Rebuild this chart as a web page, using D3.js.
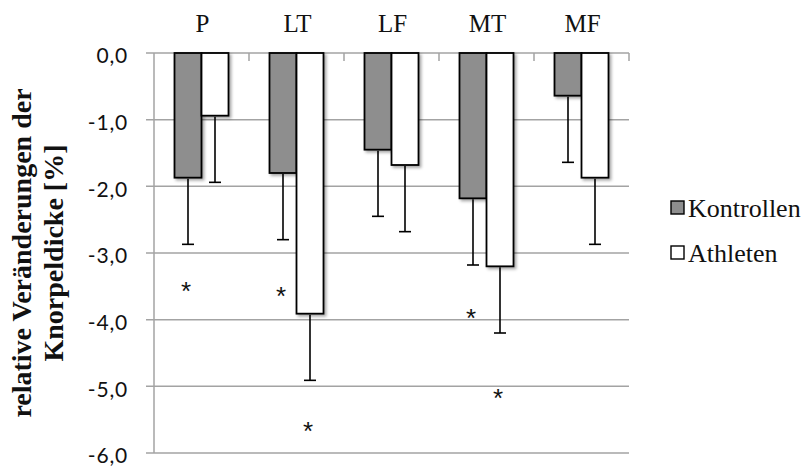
<!DOCTYPE html>
<html>
<head>
<meta charset="utf-8">
<script src="https://cdn.jsdelivr.net/npm/d3@7"></script>
<style>
  body { margin: 0; background: #fff; }
  svg { display: block; }
</style>
</head>
<body>
<div id="chart"></div>
<script>
const categories = ["P", "LT", "LF", "MT", "MF"]
const seriesNames = ["Kontrollen", "Athleten"]
const kontrollen = [-1.87, -1.80, -1.45, -2.18, -0.64]
const athleten = [-0.94, -3.91, -1.68, -3.20, -1.87]
const kontrollenSD = [1.0, 1.0, 1.0, 1.0, 1.0]
const athletenSD = [1.0, 1.0, 1.0, 1.0, 1.0]
const yTicks = [0, -1, -2, -3, -4, -5, -6]
// significance markers: category, series, y value
const stars = [
  ["P", "Kontrollen", -3.52],
  ["LT", "Kontrollen", -3.6],
  ["LT", "Athleten", -5.62],
  ["MT", "Kontrollen", -3.93],
  ["MT", "Athleten", -5.13]
]

const width = 808, height = 468
const margin = { top: 53, right: 179, bottom: 14, left: 154 }

const svg = d3.select("#chart").append("svg")
  .attr("width", width)
  .attr("height", height)

const defs = svg.append("defs")
defs.append("filter")
  .attr("id", "shadow")
  .attr("x", "-20%").attr("y", "-20%")
  .attr("width", "150%").attr("height", "150%")
  .append("feDropShadow")
  .attr("dx", 2).attr("dy", 2)
  .attr("stdDeviation", 1.6)
  .attr("flood-color", "#000")
  .attr("flood-opacity", 0.35)

const x = d3.scaleBand()
  .domain(categories)
  .range([margin.left, width - margin.right])

const gap = 41
const xs = d3.scaleBand()
  .domain(seriesNames)
  .range([gap / 2, x.bandwidth() - gap / 2])

const y = d3.scaleLinear()
  .domain([0, -6])
  .range([margin.top, height - margin.bottom - 1])

const fill = { Kontrollen: "#8e8e8e", Athleten: "#ffffff" }

// grid lines
svg.append("g")
  .selectAll("line")
  .data(yTicks)
  .join("line")
  .attr("x1", margin.left - 8)
  .attr("x2", width - margin.right)
  .attr("y1", d => y(d))
  .attr("y2", d => y(d))
  .attr("stroke", "#a3a3a3")
  .attr("stroke-width", 1.5)

// left axis line
svg.append("line")
  .attr("x1", margin.left).attr("x2", margin.left)
  .attr("y1", y(0)).attr("y2", y(-6))
  .attr("stroke", "#a3a3a3")
  .attr("stroke-width", 1.5)

// ticks on top axis at band borders
const borders = categories.map(c => x(c) + x.bandwidth())
svg.append("g")
  .selectAll("line")
  .data(borders)
  .join("line")
  .attr("x1", d => d).attr("x2", d => d)
  .attr("y1", y(0)).attr("y2", y(0) + 8)
  .attr("stroke", "#a3a3a3")
  .attr("stroke-width", 1.5)

// y tick labels
svg.append("g")
  .selectAll("text")
  .data(yTicks)
  .join("text")
  .attr("x", 128)
  .attr("y", d => y(d) + 5)
  .attr("text-anchor", "end")
  .attr("dominant-baseline", "middle")
  .style("font-family", "Lato, 'Open Sans', sans-serif")
  .style("font-size", "21px")
  .style("letter-spacing", "0.8px")
  .attr("fill", "#111")
  .text(d => d3.format(".1f")(d).replace(".", ",").replace("−", "-"))

// category labels on top
svg.append("g")
  .selectAll("text")
  .data(categories)
  .join("text")
  .attr("x", d => x(d) + x.bandwidth() / 2 + 1)
  .attr("y", 32)
  .attr("text-anchor", "middle")
  .style("font-family", "'Liberation Serif', 'Times New Roman', serif")
  .style("font-size", "25px")
  .attr("fill", "#111")
  .text(d => d)

const rows = []
categories.forEach((c, i) => {
  rows.push({ cat: c, s: "Kontrollen", v: kontrollen[i], sd: kontrollenSD[i] })
  rows.push({ cat: c, s: "Athleten", v: athleten[i], sd: athletenSD[i] })
})

// error bar caps
svg.append("g")
  .attr("stroke", "#000")
  .attr("stroke-width", 1.6)
  .selectAll("line")
  .data(rows)
  .join("line")
  .attr("x1", d => x(d.cat) + xs(d.s) + xs.bandwidth() / 2 - 6)
  .attr("x2", d => x(d.cat) + xs(d.s) + xs.bandwidth() / 2 + 6)
  .attr("y1", d => y(d.v - d.sd))
  .attr("y2", d => y(d.v - d.sd))

// bars
svg.append("g")
  .selectAll("rect")
  .data(rows)
  .join("rect")
  .attr("x", d => x(d.cat) + xs(d.s))
  .attr("y", y(0))
  .attr("width", xs.bandwidth())
  .attr("height", d => y(d.v) - y(0))
  .attr("fill", d => fill[d.s])
  .attr("stroke", "#000")
  .attr("stroke-width", 1.8)
  .attr("filter", "url(#shadow)")

// error stems over the shadows
svg.append("g")
  .attr("stroke", "#000")
  .attr("stroke-width", 1.6)
  .selectAll("line")
  .data(rows)
  .join("line")
  .attr("x1", d => x(d.cat) + xs(d.s) + xs.bandwidth() / 2)
  .attr("x2", d => x(d.cat) + xs(d.s) + xs.bandwidth() / 2)
  .attr("y1", d => y(d.v) + 1)
  .attr("y2", d => y(d.v - d.sd))

// asterisks
svg.append("g")
  .selectAll("text")
  .data(stars)
  .join("text")
  .attr("x", d => x(d[0]) + xs(d[1]) + xs.bandwidth() / 2 - 2)
  .attr("y", d => y(d[2]) + 12)
  .attr("text-anchor", "middle")
  .style("font-family", "'Liberation Sans', Arial, sans-serif")
  .style("font-size", "26px")
  .attr("fill", "#111")
  .text("*")

// y axis title
const title = svg.append("text")
  .attr("transform", "translate(0,253) rotate(-90)")
  .attr("text-anchor", "middle")
  .style("font-family", "'Liberation Serif', 'Times New Roman', serif")
  .style("font-size", "28px")
  .style("font-weight", "bold")
  .attr("fill", "#111")
title.append("tspan").attr("x", 0).attr("y", 31).text("relative Veränderungen der")
title.append("tspan").attr("x", 0).attr("y", 63).text("Knorpeldicke [%]")

// legend
const legend = svg.append("g")
  .selectAll("g")
  .data(seriesNames)
  .join("g")
  .attr("transform", (d, i) => `translate(671,${201 + i * 45})`)

legend.append("rect")
  .attr("width", 13).attr("height", 13)
  .attr("fill", d => fill[d])
  .attr("stroke", "#000")
  .attr("stroke-width", 1.4)

legend.append("text")
  .attr("x", 17)
  .attr("y", 16)
  .style("font-family", "'Liberation Serif', 'Times New Roman', serif")
  .style("font-size", "26px")
  .attr("fill", "#111")
  .text(d => d)
</script>
</body>
</html>
